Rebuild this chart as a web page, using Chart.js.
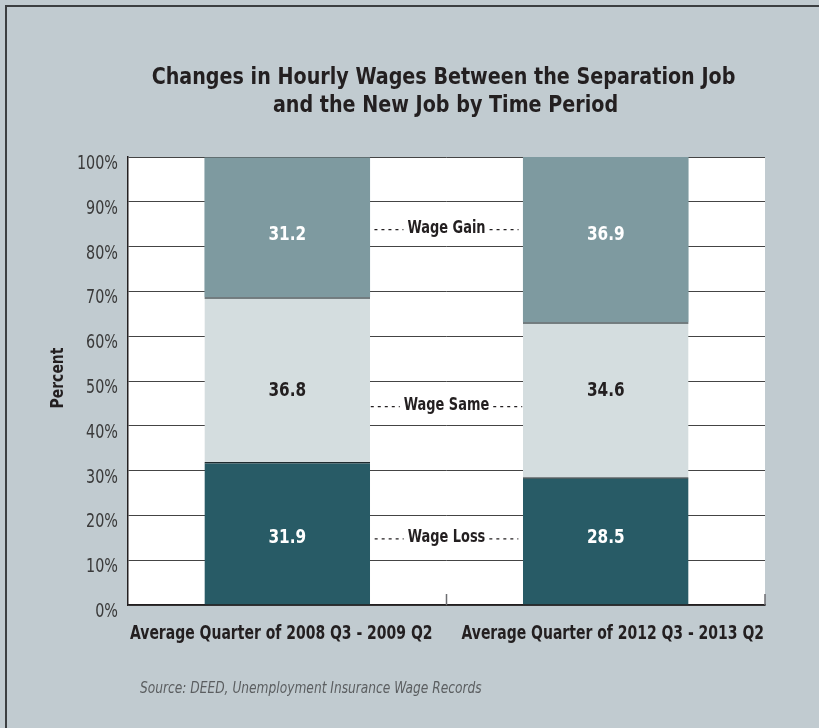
<!DOCTYPE html>
<html>
<head>
<meta charset="utf-8">
<script src="https://cdn.jsdelivr.net/npm/chart.js@4"></script>
<style>
html,body{margin:0;padding:0;background:#c1cbd0;}
#frame{position:absolute;left:5px;top:5px;width:814px;height:723px;border-top:2px solid #3c3f41;border-left:2px solid #3c3f41;box-sizing:border-box;}
#wageChart{position:absolute;left:0;top:0;display:block;}
</style>
</head>
<body>
<div id="frame"></div>
<canvas id="wageChart" width="819" height="728"></canvas>
<script>
/* ── DATA ── */
var periods=['Average Quarter of 2008 Q3 - 2009 Q2','Average Quarter of 2012 Q3 - 2013 Q2'];
var wageLoss=[31.9,28.5];
var wageSame=[36.8,34.6];
var wageGain=[31.2,36.9];
var seriesNames=['Wage Loss','Wage Same','Wage Gain'];
var yTicks=[0,10,20,30,40,50,60,70,80,90,100];

var FONT='"DejaVu Sans Condensed","Liberation Sans Narrow",sans-serif';
var INK='#231f20';

// condensed type: squeeze the glyphs horizontally around the anchor
function narrowText(ctx,txt,x,y,font,sx,align){
  ctx.save();
  ctx.font=font;ctx.textAlign=align||'center';ctx.textBaseline='middle';
  ctx.translate(x,y);ctx.scale(sx,1);
  ctx.fillText(txt,0,0);
  ctx.restore();
}

/* white plot area behind the grid */
var plotBg={
  id:'plotBg',
  beforeDraw:function(c){
    var a=c.chartArea,ctx=c.ctx;
    ctx.save();ctx.fillStyle='#fff';ctx.fillRect(a.left,a.top,a.right-a.left,a.bottom-a.top);ctx.restore();
  }
};

/* title, axis text, values in the bars, series names, source line */
var extras={
  id:'extras',
  afterDraw:function(c){
    var ctx=c.ctx,x=c.scales.x,y=c.scales.y,a=c.chartArea;
    var cx=(a.left+a.right)/2;
    ctx.save();

    ctx.fillStyle=INK;
    narrowText(ctx,'Changes in Hourly Wages Between the Separation Job',cx-3,78,'bold 23px '+FONT,0.925);
    narrowText(ctx,'and the New Job by Time Period',cx-1,106,'bold 23px '+FONT,0.925);

    // y tick labels sit a little below their grid lines
    ctx.fillStyle='#3a3a3a';
    yTicks.forEach(function(v){
      narrowText(ctx,v+'%',118,y.getPixelForValue(v)+7,'19px '+FONT,0.84,'right');
    });

    // y axis title
    ctx.save();
    ctx.translate(58,378);ctx.rotate(-Math.PI/2);
    ctx.fillStyle=INK;
    narrowText(ctx,'Percent',0,0,'bold 18px '+FONT,0.86);
    ctx.restore();

    // category labels, first flush left, second flush right
    ctx.fillStyle=INK;
    narrowText(ctx,periods[0],a.left+2,634,'bold 20px '+FONT,0.777,'left');
    narrowText(ctx,periods[1],a.right-1,634,'bold 20px '+FONT,0.777,'right');

    // values: one row per series, at the mean height of its segments
    c.data.datasets.forEach(function(ds,di){
      var bars=c.getDatasetMeta(di).data;
      var rowY=bars.reduce(function(s,b){return s+(b.y+b.base)/2;},0)/bars.length+1;
      bars.forEach(function(bar,i){
        ctx.fillStyle=di===1?INK:'#ffffff';
        narrowText(ctx,ds.data[i].toFixed(1),bar.x,rowY,'bold 20px '+FONT,0.85);
      });
    });

    // series names in the gap between the two bars
    var mid=(x.getPixelForValue(0)+x.getPixelForValue(1))/2;
    var spots=[15,44.5,84];
    seriesNames.forEach(function(n,i){
      var py=y.getPixelForValue(spots[i]);
      ctx.font='bold 18px '+FONT;
      var w=ctx.measureText(n).width*0.8;
      ctx.fillStyle=INK;
      narrowText(ctx,n,mid,py,'bold 18px '+FONT,0.8);
      ctx.strokeStyle=INK;ctx.lineWidth=1.3;ctx.setLineDash([3,4]);
      ctx.beginPath();
      ctx.moveTo(mid-w/2-33,py+1);ctx.lineTo(mid-w/2-4,py+1);
      ctx.moveTo(mid+w/2+4,py+1);ctx.lineTo(mid+w/2+33,py+1);
      ctx.stroke();
      ctx.setLineDash([]);
    });

    // short upward ticks on the x axis
    ctx.strokeStyle='#6d6e71';ctx.lineWidth=1.5;
    ctx.beginPath();
    ctx.moveTo(mid,a.bottom);ctx.lineTo(mid,a.bottom-11);
    ctx.moveTo(a.right,a.bottom);ctx.lineTo(a.right,a.bottom-11);
    ctx.stroke();

    ctx.fillStyle='#5b5e60';
    narrowText(ctx,'Source: DEED, Unemployment Insurance Wage Records',140,689,'italic 16px '+FONT,0.85,'left');
    ctx.restore();
  }
};

new Chart(document.getElementById('wageChart').getContext('2d'),{
  type:'bar',
  data:{
    labels:periods,
    datasets:[
      {label:seriesNames[0],data:wageLoss,backgroundColor:'#285b66',borderColor:'#1e2a2e',borderWidth:{top:1.5},borderSkipped:false,barPercentage:.52,categoryPercentage:1},
      {label:seriesNames[1],data:wageSame,backgroundColor:'#d4dddf',borderColor:'#1e2a2e',borderWidth:{top:1.5},borderSkipped:false,barPercentage:.52,categoryPercentage:1},
      {label:seriesNames[2],data:wageGain,backgroundColor:'#7e9aa0',borderWidth:0,barPercentage:.52,categoryPercentage:1}
    ]
  },
  options:{
    responsive:false,animation:false,
    layout:{padding:{left:0,right:54,top:157,bottom:0}},
    plugins:{legend:{display:false},tooltip:{enabled:false},title:{display:false}},
    scales:{
      x:{stacked:true,
        grid:{display:false},
        border:{display:true,color:INK,width:1.5},
        ticks:{display:false},
        afterFit:function(s){s.height=123;}
      },
      y:{stacked:true,min:0,max:100,
        afterBuildTicks:function(s){s.ticks=yTicks.map(function(v){return{value:v};});},
        ticks:{display:false},
        grid:{color:'#444',lineWidth:1,drawTicks:false},
        border:{display:true,color:INK,width:1.5},
        afterFit:function(s){s.width=128;}
      }
    }
  },
  plugins:[plotBg,extras]
});
</script>
</body>
</html>
